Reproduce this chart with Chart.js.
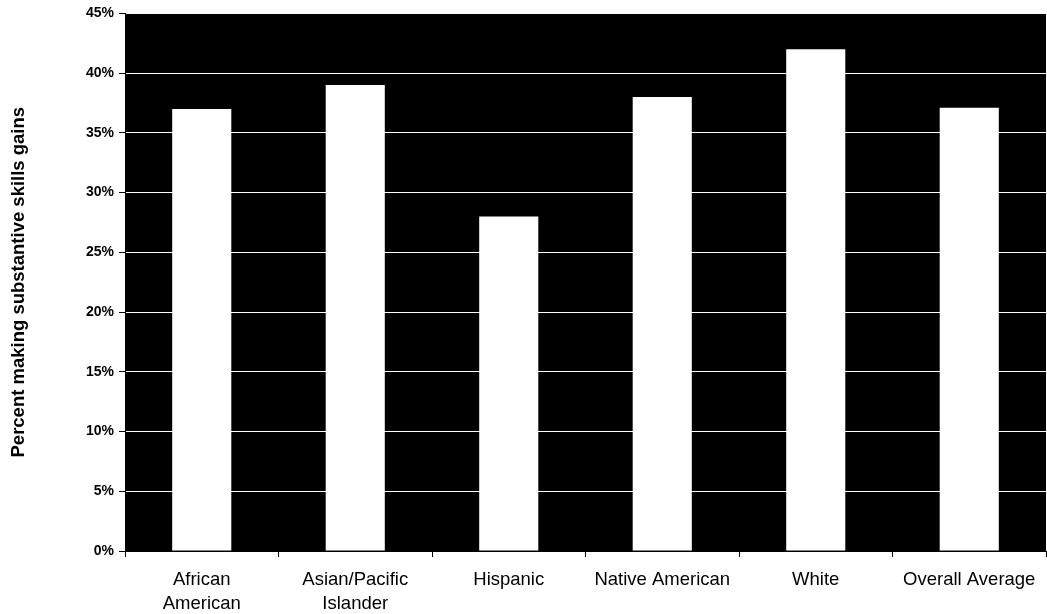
<!DOCTYPE html>
<html>
<head>
<meta charset="utf-8">
<script src="https://cdn.jsdelivr.net/npm/chart.js@4"></script>
<style>
  html, body { margin: 0; padding: 0; background: #fff; }
  #wrap { width: 1047px; height: 614px; }
</style>
</head>
<body>
<div id="wrap"><canvas id="chart"></canvas></div>
<script>
const groups = [
  ['African', 'American'],
  ['Asian/Pacific', 'Islander'],
  'Hispanic',
  'Native American',
  'White',
  'Overall Average'
];
const gains = [37, 39, 28, 38, 42, 37.1];
const yMax = 45;
const yStep = 5;

// black plot background
const plotBg = {
  id: 'plotBg',
  beforeDraw(chart) {
    const a = chart.chartArea;
    const ctx = chart.ctx;
    ctx.save();
    ctx.fillStyle = '#000';
    ctx.fillRect(a.left, a.top, a.right - a.left, a.bottom - a.top);
    ctx.restore();
  }
};

const ctx = document.getElementById('chart').getContext('2d');
const chart = new Chart(ctx, {
  type: 'bar',
  data: {
    labels: groups,
    datasets: [{
      data: gains,
      backgroundColor: '#fff',
      borderWidth: 0,
      categoryPercentage: 1,
      barPercentage: 0.385
    }]
  },
  options: {
    responsive: true,
    maintainAspectRatio: false,
    animation: false,
    layout: { padding: { top: 13, right: 1, left: 0, bottom: 0 } },
    plugins: {
      legend: { display: false },
      tooltip: { enabled: false }
    },
    scales: {
      x: {
        grid: {
          drawOnChartArea: false,
          tickColor: '#000',
          tickLength: 6,
          offset: true
        },
        border: { color: '#000', width: 1 },
        ticks: {
          color: '#000',
          maxRotation: 0,
          autoSkip: false,
          padding: 11,
          font: { family: 'Liberation Sans, Arial, sans-serif', size: 18.5, lineHeight: 1.3 }
        },
        afterFit(s) { s.height = 63; }
      },
      y: {
        min: 0,
        max: yMax,
        grid: {
          color: '#fff',
          tickColor: '#000',
          tickLength: 6
        },
        border: { color: '#000', width: 1 },
        ticks: {
          stepSize: yStep,
          color: '#000',
          padding: 5,
          font: { family: 'Liberation Sans, Arial, sans-serif', size: 14, weight: 'bold' },
          callback: v => v + '%'
        },
        title: {
          display: true,
          text: 'Percent making substantive skills gains',
          color: '#000',
          padding: { top: 8, bottom: 0 },
          font: { family: 'Liberation Sans, Arial, sans-serif', size: 18.5, weight: 'bold' }
        },
        afterFit(s) { s.width = 125; }
      }
    }
  },
  plugins: [plotBg]
});
</script>
</body>
</html>
